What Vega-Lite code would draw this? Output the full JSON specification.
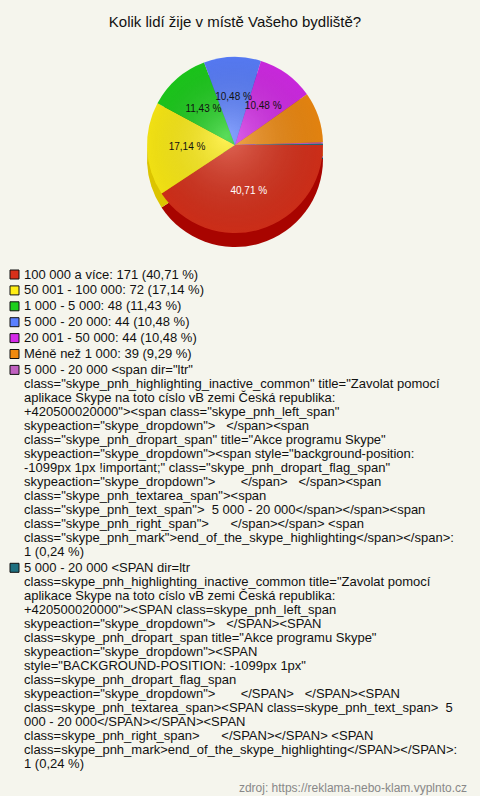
{
  "$schema": "https://vega.github.io/schema/vega-lite/v6.json",
  "width": 470,
  "height": 200,
  "padding": {"left": 0, "right": 10, "top": 15, "bottom": 4},
  "background": "#f5f5ed",
  "title": {
    "text": "Kolik lidí žije v místě Vašeho bydliště?",
    "fontSize": 15,
    "fontWeight": "normal",
    "color": "#111111",
    "offset": 15
  },
  "data": {
    "values": [
      {"legend": "100 000 a více: 171 (40,71 %)", "count": 171, "pct": "40,71 %"},
      {"legend": "50 001 - 100 000: 72 (17,14 %)", "count": 72, "pct": "17,14 %"},
      {"legend": "1 000 - 5 000: 48 (11,43 %)", "count": 48, "pct": "11,43 %"},
      {"legend": "5 000 - 20 000: 44 (10,48 %)", "count": 44, "pct": "10,48 %"},
      {"legend": "20 001 - 50 000: 44 (10,48 %)", "count": 44, "pct": "10,48 %"},
      {"legend": "Méně než 1 000: 39 (9,29 %)", "count": 39, "pct": "9,29 %"},
      {"legend": "5 000 - 20 000 <span dir=\"ltr\"\nclass=\"skype_pnh_highlighting_inactive_common\" title=\"Zavolat pomocí\naplikace Skype na toto císlo vB zemi Česká republika:\n+420500020000\"><span class=\"skype_pnh_left_span\"\nskypeaction=\"skype_dropdown\">\u00a0\u00a0\u00a0</span><span\nclass=\"skype_pnh_dropart_span\" title=\"Akce programu Skype\"\nskypeaction=\"skype_dropdown\"><span style=\"background-position:\n-1099px 1px !important;\" class=\"skype_pnh_dropart_flag_span\"\nskypeaction=\"skype_dropdown\">\u00a0\u00a0\u00a0\u00a0\u00a0\u00a0\u00a0</span>\u00a0\u00a0\u00a0</span><span\nclass=\"skype_pnh_textarea_span\"><span\nclass=\"skype_pnh_text_span\">\u00a0\u00a05 000 - 20 000</span></span><span\nclass=\"skype_pnh_right_span\">\u00a0\u00a0\u00a0\u00a0\u00a0\u00a0</span></span> <span\nclass=\"skype_pnh_mark\">end_of_the_skype_highlighting</span></span>:\n1 (0,24 %)", "count": 1, "pct": "0,24 %"},
      {"legend": "5 000 - 20 000 <SPAN dir=ltr\nclass=skype_pnh_highlighting_inactive_common title=\"Zavolat pomocí\naplikace Skype na toto císlo vB zemi Česká republika:\n+420500020000\"><SPAN class=skype_pnh_left_span\nskypeaction=\"skype_dropdown\">\u00a0\u00a0\u00a0</SPAN><SPAN\nclass=skype_pnh_dropart_span title=\"Akce programu Skype\"\nskypeaction=\"skype_dropdown\"><SPAN\nstyle=\"BACKGROUND-POSITION: -1099px 1px\"\nclass=skype_pnh_dropart_flag_span\nskypeaction=\"skype_dropdown\">\u00a0\u00a0\u00a0\u00a0\u00a0\u00a0\u00a0</SPAN>\u00a0\u00a0\u00a0</SPAN><SPAN\nclass=skype_pnh_textarea_span><SPAN class=skype_pnh_text_span>\u00a0\u00a05\n000 - 20 000</SPAN></SPAN><SPAN\nclass=skype_pnh_right_span>\u00a0\u00a0\u00a0\u00a0\u00a0\u00a0</SPAN></SPAN> <SPAN\nclass=skype_pnh_mark>end_of_the_skype_highlighting</SPAN></SPAN>:\n1 (0,24 %)", "count": 1, "pct": "0,24 %"}
    ]
  },
  "layer": [
    {
      "mark": {"type": "arc", "outerRadius": 88, "yOffset": 14},
      "encoding": {
        "theta": {"field": "count", "type": "quantitative", "stack": true, "scale": {"range": [1.5708, 7.854]}},
        "order": {"field": "count", "type": "quantitative", "sort": "descending"},
        "color": {
          "field": "legend",
          "type": "nominal",
          "sort": null,
          "legend": null,
          "scale": {"range": ["#a80400", "#dcc400", "#0a9a0a", "#3050c0", "#9c10b0", "#c06000", "#904890", "#105060"]}
        }
      }
    },
    {
      "mark": {"type": "arc", "outerRadius": 88},
      "encoding": {
        "theta": {"field": "count", "type": "quantitative", "stack": true, "scale": {"range": [1.5708, 7.854]}},
        "order": {"field": "count", "type": "quantitative", "sort": "descending"},
        "color": {
          "field": "legend",
          "type": "nominal",
          "sort": null,
          "scale": {"range": ["#d8301a", "#ffee14", "#1ccf1c", "#5a80ff", "#d42ae8", "#f08a10", "#c060c0", "#1f7080"]},
          "legend": {
            "orient": "none",
            "legendX": 8,
            "legendY": 223,
            "title": "zdroj: https://reklama-nebo-klam.vyplnto.cz",
            "titleOrient": "bottom",
            "titleAnchor": "end",
            "titleAlign": "right",
            "titleFontSize": 12,
            "titleFontWeight": "normal",
            "titleColor": "#888888",
            "titlePadding": 12,
            "titleLimit": 0,
            "symbolType": "square",
            "symbolSize": 81,
            "symbolStrokeColor": "#111111",
            "symbolStrokeWidth": 1,
            "labelFontSize": 13,
            "labelColor": "#111111",
            "labelLimit": 0,
            "labelOffset": 3,
            "rowPadding": 1.9,
            "labelExpr": "split(datum.label, '\\n')",
            "encode": {
              "labels": {"update": {"lineHeight": {"value": 14}}},
              "title": {"update": {"dx": {"value": 10}}}
            }
          }
        }
      }
    },
    {
      "data": {"values": [{"k": 1}]},
      "mark": {
        "type": "arc",
        "outerRadius": 88,
        "theta": 0,
        "theta2": 6.2832,
        "color": {
          "gradient": "radial",
          "x1": 0.45, "y1": 0.45, "r1": 0,
          "x2": 0.5, "y2": 0.5, "r2": 0.5,
          "stops": [
            {"offset": 0, "color": "rgba(255,255,255,0.28)"},
            {"offset": 1, "color": "rgba(0,0,0,0.06)"}
          ]
        }
      },
      "encoding": {}
    },
    {
      "mark": {"type": "text", "radius": 48, "fontSize": 10},
      "encoding": {
        "theta": {"field": "count", "type": "quantitative", "stack": true, "scale": {"range": [1.5708, 7.854]}},
        "order": {"field": "count", "type": "quantitative", "sort": "descending"},
        "text": {"condition": {"test": "datum.count >= 44", "field": "pct"}, "value": ""},
        "color": {"condition": {"test": "datum.count > 100", "value": "#ffffff"}, "value": "#111111"}
      }
    }
  ],
  "resolve": {"scale": {"color": "independent"}},
  "config": {
    "font": "Liberation Sans",
    "view": {"stroke": null}
  }
}
